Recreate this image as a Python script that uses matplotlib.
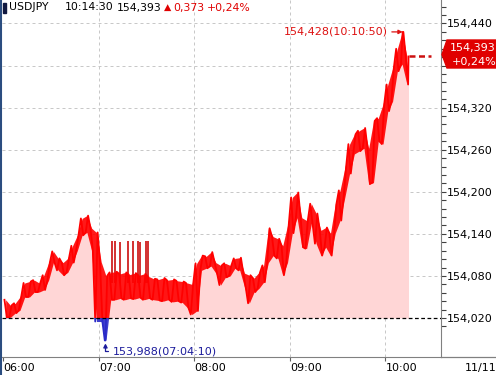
import numpy as np
import matplotlib
matplotlib.use("Agg")
import matplotlib.pyplot as plt
from matplotlib import font_manager
from matplotlib.patches import Rectangle, Polygon
from matplotlib.lines import Line2D

# --- data (x = minutes after 06:00) ---
bin_start = list(range(0, 255, 3))          # 3-minute bins, 06:00 .. 10:12
high = [154.046, 154.038, 154.041, 154.050, 154.070, 154.072, 154.074, 154.070, 154.081, 154.099,
        154.115, 154.105, 154.099, 154.105, 154.123, 154.138, 154.162, 154.166, 154.148, 154.142,
        154.100, 154.080, 154.085, 154.086, 154.083, 154.085, 154.082, 154.084, 154.081, 154.083,
        154.079, 154.076, 154.075, 154.077, 154.074, 154.075, 154.073, 154.072, 154.070, 154.068,
        154.098, 154.109, 154.108, 154.114, 154.099, 154.095, 154.098, 154.095, 154.105, 154.106,
        154.084, 154.081, 154.077, 154.085, 154.095, 154.148, 154.136, 154.133, 154.123, 154.152,
        154.192, 154.199, 154.163, 154.159, 154.183, 154.169, 154.145, 154.149, 154.141, 154.183,
        154.202, 154.234, 154.268, 154.282, 154.287, 154.291, 154.262, 154.301, 154.305, 154.325,
        154.353, 154.376, 154.404, 154.428, 154.393]
low = [154.021, 154.021, 154.027, 154.031, 154.050, 154.050, 154.057, 154.057, 154.060, 154.074,
       154.099, 154.088, 154.081, 154.085, 154.099, 154.116, 154.138, 154.142, 154.116, 154.015,
       154.015, 153.988, 154.046, 154.046, 154.048, 154.046, 154.048, 154.047, 154.049, 154.046,
       154.048, 154.046, 154.045, 154.044, 154.046, 154.043, 154.044, 154.042, 154.035, 154.025,
       154.030, 154.088, 154.091, 154.094, 154.084, 154.067, 154.078, 154.080, 154.091, 154.088,
       154.064, 154.041, 154.057, 154.062, 154.071, 154.099, 154.109, 154.105, 154.081, 154.099,
       154.141, 154.163, 154.121, 154.119, 154.155, 154.126, 154.109, 154.121, 154.109, 154.141,
       154.159, 154.192, 154.226, 154.254, 154.258, 154.262, 154.211, 154.213, 154.272, 154.268,
       154.315, 154.329, 154.372, 154.382, 154.353]
# thin upward spikes during 07:08-07:31
spike_times = [68.1, 70.2, 73.3, 78.1, 81.3, 84.8, 86.0, 89.4, 90.7]
spike_top = [154.130, 154.130, 154.129, 154.130, 154.130, 154.130, 154.129, 154.130, 154.130]
spike_base = 154.070

prev_close = 154.020
last_time, last_price = 254.5, 154.393        # 10:14:30
max_time, max_price = 250.83, 154.428         # 10:10:50
min_time, min_price = 64.17, 153.988          # 07:04:10

ytick_vals = [154.020, 154.080, 154.140, 154.200, 154.260, 154.320, 154.380, 154.440]
xtick_vals = [0, 60, 120, 180, 240]
xtick_labels = ["06:00", "07:00", "08:00", "09:00", "10:00"]

# --- fonts ---
names = {f.name for f in font_manager.fontManager.ttflist}
FONT, FS = "DejaVu Sans", 8
for cand, size in (("DejaVu Sans Condensed", 8.8), ("Liberation Sans Narrow", 9.2)):
    if cand in names:
        FONT, FS = cand, size
        break
plt.rcParams["font.family"] = [FONT, "DejaVu Sans"]

W, H = 496, 375
fig = plt.figure(figsize=(W / 100, H / 100), dpi=100)
ax = fig.add_axes([2 / W, 18 / H, 439 / W, 357 / H])
x0, x1 = -0.8, 274.9
y0, y1 = 153.9644, 154.4735
ax.set_xlim(x0, x1)
ax.set_ylim(y0, y1)


def fx(px):
    return px / W


def fy(py):
    return 1 - py / H


# zigzag path through bin highs/lows
pts = []
for k, (m, hi, lo) in enumerate(zip(bin_start, high, low)):
    if k % 2 == 0:
        pts += [(m + 0.75, hi), (m + 2.25, lo)]
    else:
        pts += [(m + 0.75, lo), (m + 2.25, hi)]
pts += [(max_time, max_price), (min_time, min_price), (last_time, last_price)]
pts.sort()
t = np.array([q[0] for q in pts])
p = np.array([q[1] for q in pts])
centers = np.array(bin_start) + 1.5

# grid
for v in ytick_vals[1:]:
    ax.axhline(v, color="#c8c8c8", lw=0.72, dashes=(3, 3), zorder=0)
for v in xtick_vals[1:]:
    ax.axvline(v, color="#c8c8c8", lw=0.72, dashes=(3, 3), zorder=0)

ax.fill_between(t, np.maximum(p, prev_close), prev_close, color="#ffd6d6", lw=0, zorder=1)
ax.vlines(spike_times, spike_base, spike_top, color="#d02020", lw=1.3, zorder=2)

clip_up = Rectangle((x0, prev_close), x1 - x0, y1 - prev_close, transform=ax.transData)
clip_dn = Rectangle((x0, y0), x1 - x0, prev_close - y0, transform=ax.transData)
for col, clip in (("#ff0000", clip_up), ("#2a2ac8", clip_dn)):
    band = ax.fill_between(centers, low, high, color=col, lw=0, alpha=0.9, zorder=3)
    band.set_clip_path(clip)
    ln, = ax.plot(t, p, color=col, lw=1.3, zorder=3)
    ln.set_clip_path(clip)

ax.axhline(prev_close, color="black", lw=0.9, dashes=(3, 2), zorder=4)
ax.plot([last_time, 268.7], [last_price, last_price], color="#cc1010", lw=1.8,
        dashes=(2.4, 1.4), zorder=4)

# extremes
ax.annotate(f"{max_price:.3f}(10:10:50)".replace(".", ","), xy=(max_time, max_price),
            xytext=(-15, 0), textcoords="offset pixels", ha="right", va="center",
            color="#dd1111", fontsize=FS,
            arrowprops=dict(arrowstyle="-|>", color="#dd1111", lw=0.9, mutation_scale=6,
                            relpos=(1, 0.5), shrinkA=1, shrinkB=0))
ax.annotate(f"{min_price:.3f}(07:04:10)".replace(".", ","), xy=(min_time, min_price),
            xytext=(7, -11), textcoords="offset pixels", ha="left", va="center",
            color="#1c1c9c", fontsize=FS, annotation_clip=False,
            arrowprops=dict(arrowstyle="-|>", color="#1c1c9c", lw=0.9, mutation_scale=6,
                            relpos=(0, 0.5), shrinkA=1, shrinkB=2,
                            connectionstyle="angle,angleA=0,angleB=90,rad=0"))

# axes styling
for s in ("top", "left"):
    ax.spines[s].set_visible(False)
ax.spines["right"].set_color("#808080")
ax.spines["bottom"].set_color("#808080")
ax.yaxis.tick_right()
ax.set_yticks(ytick_vals)
# the 154,380 label sits under the last-price tag
ax.set_yticklabels(["" if v == 154.380 else f"{v:.3f}".replace(".", ",") for v in ytick_vals])
ax.set_yticks(np.arange(154.008, 154.47, 0.012), minor=True)
ax.tick_params(axis="y", which="both", length=3.5, width=0.8, color="#404040", pad=1,
               labelsize=FS, labelcolor="black")
ax.set_xticks(xtick_vals)
ax.set_xticklabels(xtick_labels)
ax.tick_params(axis="x", length=3, width=0.8, color="#606060", pad=1, labelsize=FS)
for lab in ax.get_xticklabels():
    lab.set_ha("left")

# frame bits outside the axes
fig.add_artist(Line2D([fx(441), 1], [fy(357), fy(357)], color="#808080", lw=0.9))
fig.add_artist(Line2D([fx(0.5), fx(0.5)], [0, 1], color="#2b4d80", lw=1.5))
fig.text(fx(465), fy(368), "11/11", ha="left", va="center", fontsize=FS)

# last-price tag
tag = Polygon([(fx(442), fy(54.5)), (fx(447), fy(40)), (fx(496), fy(40)),
               (fx(496), fy(68)), (fx(447), fy(68))], closed=True,
              transform=fig.transFigure, color="#e00000", zorder=10)
fig.add_artist(tag)
fig.text(fx(473), fy(48), f"{last_price:.3f}".replace(".", ","), color="white",
         ha="center", va="center", fontsize=FS, zorder=11)
fig.text(fx(474), fy(61.5), "+0,24%", color="white", ha="center", va="center",
         fontsize=FS, zorder=11)

# header
HS = FS - 0.2
fig.add_artist(Rectangle((fx(3), fy(13)), 3 / W, 10 / H, transform=fig.transFigure,
                         color="#101840"))
hy = fy(7.5)
fig.text(fx(9), hy, "USDJPY", ha="left", va="center", fontsize=HS)
fig.text(fx(65), hy, "10:14:30", ha="left", va="center", fontsize=HS)
fig.text(fx(117), hy, "154,393", ha="left", va="center", fontsize=HS)
fig.text(fx(164), hy, "▲", ha="left", va="center", fontsize=HS - 1, color="#e00000",
         family="DejaVu Sans")
fig.text(fx(173), hy, "0,373", ha="left", va="center", fontsize=HS, color="#e00000")
fig.text(fx(207), hy, "+0,24%", ha="left", va="center", fontsize=HS, color="#e00000")

fig.savefig("out.png", dpi=100)
